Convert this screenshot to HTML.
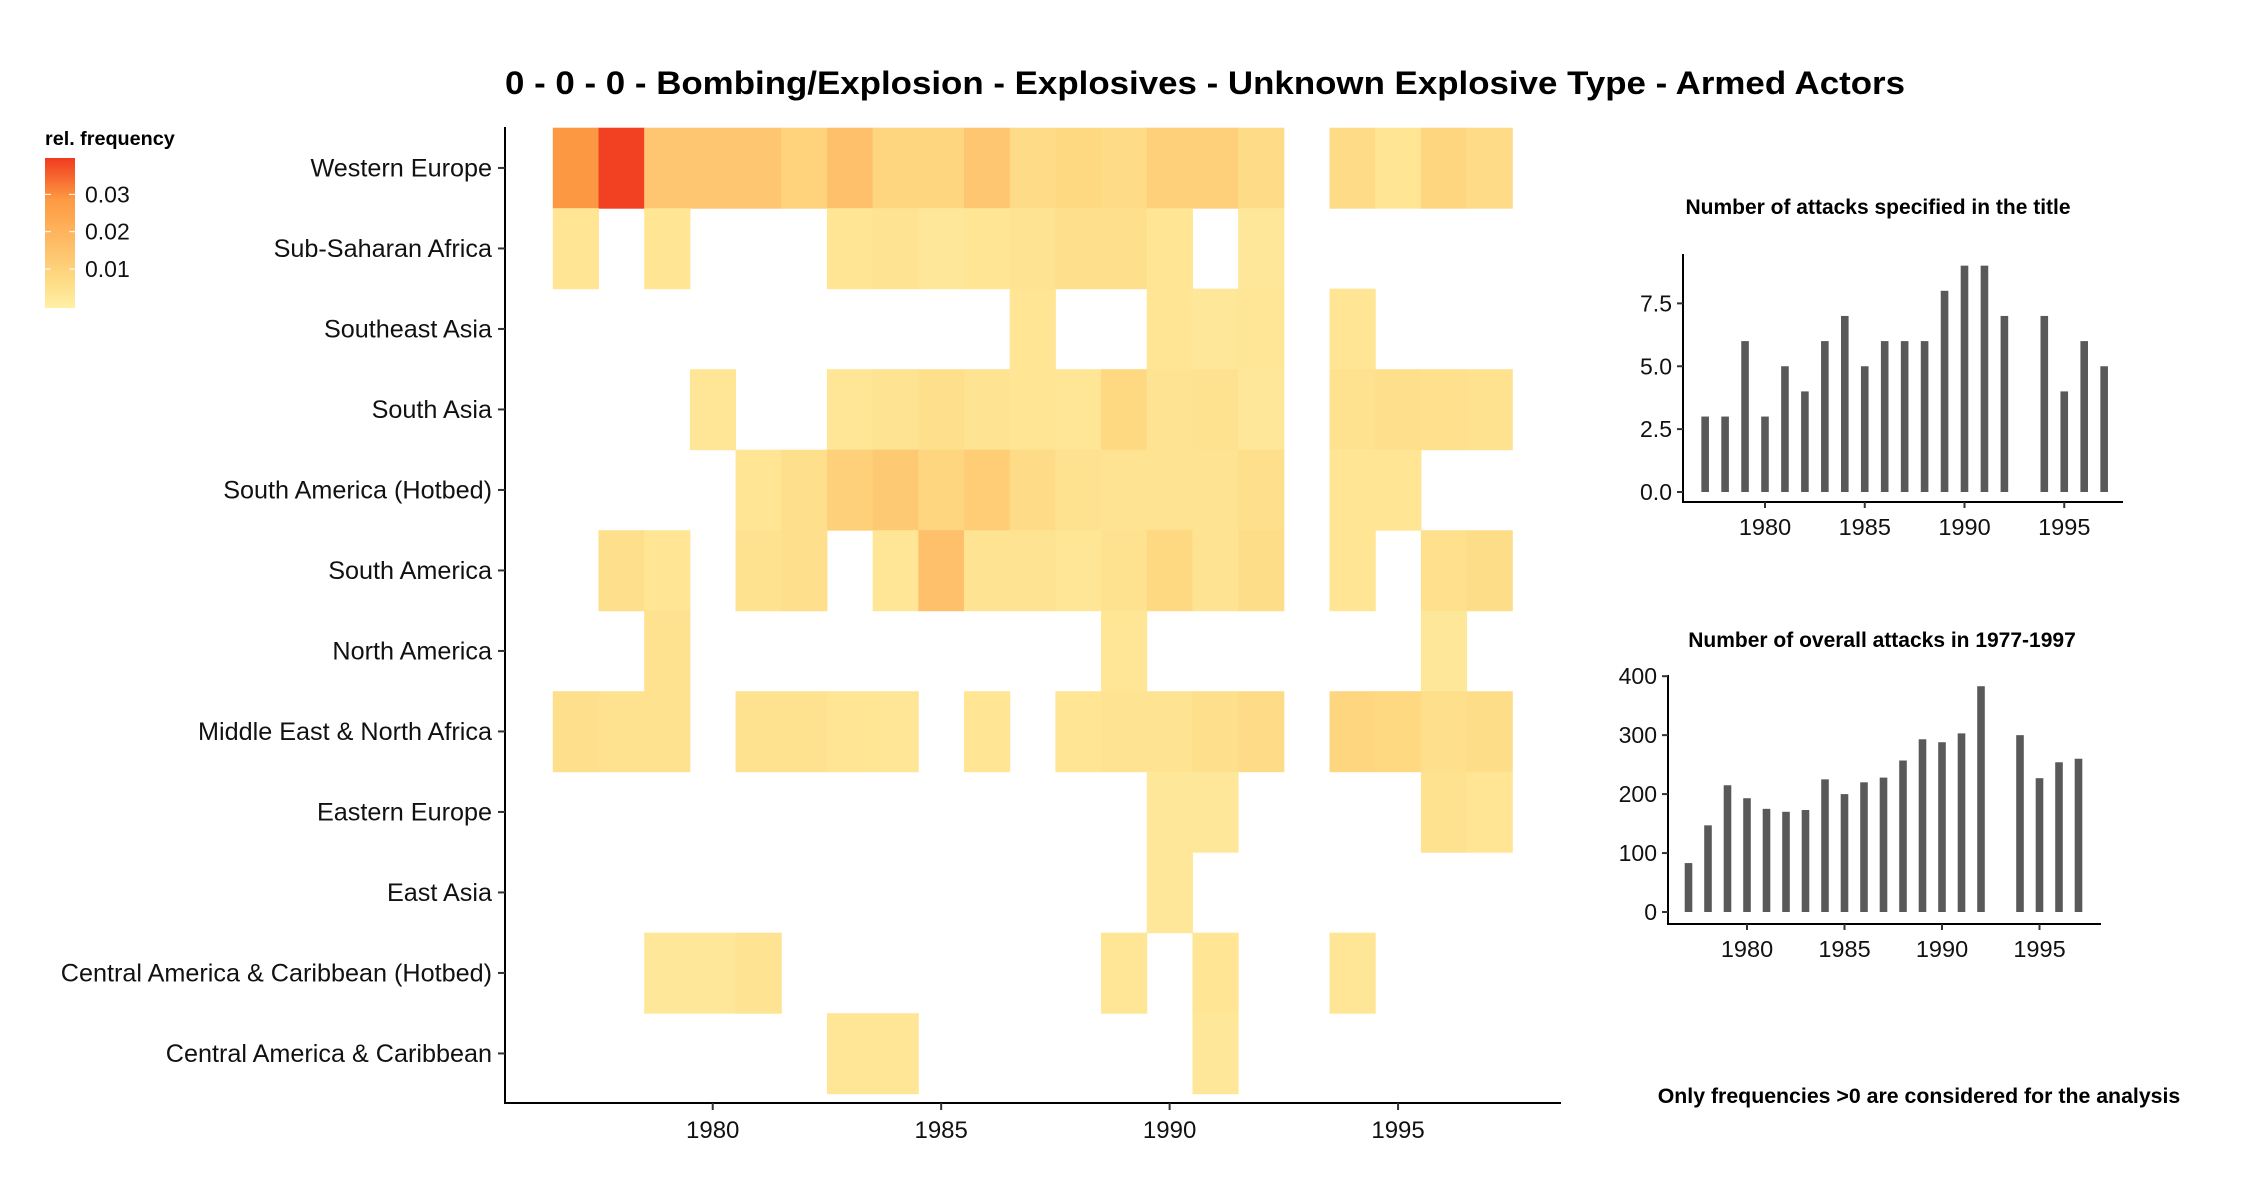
<!DOCTYPE html>
<html><head><meta charset="utf-8"><style>
body{margin:0;background:#fff;}
svg{display:block;font-family:"Liberation Sans",Arial,sans-serif;}
</style></head><body>
<svg id="chart" width="2250" height="1200" viewBox="0 0 2250 1200" xmlns="http://www.w3.org/2000/svg">
<defs>
<linearGradient id="lg" x1="0" y1="1" x2="0" y2="0">
<stop offset="0" stop-color="#fff0a6"/>
<stop offset="0.2" stop-color="#fed982"/>
<stop offset="0.4" stop-color="#fec06a"/>
<stop offset="0.72" stop-color="#fd9b43"/>
<stop offset="1" stop-color="#f03b20"/>
</linearGradient>
</defs>
<text x="1205" y="94" font-size="32" font-weight="bold" text-anchor="middle" textLength="1400" lengthAdjust="spacingAndGlyphs" fill="#000">0 - 0 - 0 - Bombing/Explosion - Explosives - Unknown Explosive Type - Armed Actors</text>
<g id="legend">
<text x="45" y="145" font-size="19.8" font-weight="bold" fill="#000">rel. frequency</text>
<rect x="45" y="158" width="30" height="150" fill="url(#lg)"/>
</g>
<g id="heat"></g>
<g id="bars1"></g>
<g id="bars2"></g>
<text x="1919" y="1103" font-size="21.3" font-weight="bold" text-anchor="middle" fill="#000">Only frequencies &gt;0 are considered for the analysis</text>
</svg>
<script>
const NS="http://www.w3.org/2000/svg";
const regions=["Western Europe","Sub-Saharan Africa","Southeast Asia","South Asia","South America (Hotbed)","South America","North America","Middle East & North Africa","Eastern Europe","East Asia","Central America & Caribbean (Hotbed)","Central America & Caribbean"];
const years=[1977,1978,1979,1980,1981,1982,1983,1984,1985,1986,1987,1988,1989,1990,1991,1992,1993,1994,1995,1996,1997];
const freq=[
[0.029,0.039,0.014,0.014,0.014,0.010,0.016,0.009,0.009,0.014,0.007,0.008,0.007,0.011,0.011,0.007,0,0.007,0.004,0.009,0.007],
[0.004,0,0.004,0,0,0,0.004,0.0045,0.003,0.004,0.0045,0.006,0.006,0.004,0,0.003,0,0,0,0,0],
[0,0,0,0,0,0,0,0,0,0,0.004,0,0,0.004,0.003,0.0035,0,0.004,0,0,0],
[0,0,0,0.0035,0,0,0.0035,0.0045,0.006,0.0045,0.004,0.0035,0.008,0.0045,0.005,0.003,0,0.005,0.006,0.0055,0.005],
[0,0,0,0,0.004,0.006,0.011,0.013,0.009,0.012,0.007,0.005,0.0045,0.0045,0.0045,0.006,0,0.004,0.004,0,0],
[0,0.006,0.004,0,0.005,0.006,0,0.0035,0.016,0.0045,0.0045,0.0035,0.005,0.008,0.0045,0.0065,0,0.004,0,0.0055,0.0065],
[0,0,0.005,0,0,0,0,0,0,0,0,0,0.0035,0,0,0,0,0,0,0.003,0],
[0.006,0.005,0.005,0,0.005,0.005,0.004,0.0035,0,0.004,0,0.004,0.0045,0.0045,0.006,0.007,0,0.009,0.008,0.006,0.0065],
[0,0,0,0,0,0,0,0,0,0,0,0,0,0.003,0.003,0,0,0,0,0.005,0.004],
[0,0,0,0,0,0,0,0,0,0,0,0,0,0.003,0,0,0,0,0,0,0],
[0,0,0.003,0.003,0.0045,0,0,0,0,0,0,0,0.0035,0,0.004,0,0,0.0035,0,0,0],
[0,0,0,0,0,0,0.0035,0.0035,0,0,0,0,0,0,0.003,0,0,0,0,0,0]];
const xTicks=[1980,1985,1990,1995];
const legendTicks=[0.01,0.02,0.03];
const barYears=[1977,1978,1979,1980,1981,1982,1983,1984,1985,1986,1987,1988,1989,1990,1991,1992,1994,1995,1996,1997];
const attacksTitle=[3,3,6,3,5,4,6,7,5,6,6,6,8,9,9,7,7,4,6,5];
const attacksOverall=[83,147,215,193,175,170,173,225,200,220,228,257,293,288,303,383,300,227,254,260];
const ticks1=[0,2.5,5,7.5];
const ticks1Labels=["0.0","2.5","5.0","7.5"];
const ticks2=[0,100,200,300,400];

function el(tag,attrs,parent,text){const e=document.createElementNS(NS,tag);for(const k in attrs)e.setAttribute(k,attrs[k]);if(text!==undefined)e.textContent=text;parent.appendChild(e);return e;}
const stops=[[0,[255,240,166]],[0.008,[254,217,130]],[0.016,[254,192,106]],[0.0286,[253,155,67]],[0.0397,[240,59,32]]];
function color(v){for(let i=1;i<stops.length;i++){if(v<=stops[i][0]){const a=stops[i-1],b=stops[i];const t=(v-a[0])/(b[0]-a[0]);const c=a[1].map((x,j)=>Math.round(x+(b[1][j]-x)*t));return `rgb(${c})`;}}return "rgb(240,59,32)";}

const hx0=552.8,cw=45.69,hy0=127.7,rh=80.5,axY=1103;
const xS=y=>hx0+(y-years[0])*cw;
const yS=i=>hy0+i*rh;
const heat=document.getElementById('heat');
freq.forEach((row,i)=>row.forEach((v,j)=>{if(v>0){
 const r=el('rect',{x:xS(years[j]),y:yS(i),width:cw+0.5,height:rh+0.5,fill:color(v)},heat);
 
 
}}));
let ax=el('line',{x1:505,y1:127,x2:505,y2:axY+1,stroke:'#000','stroke-width':2},heat);


ax=el('line',{x1:504,y1:axY,x2:1561,y2:axY,stroke:'#000','stroke-width':2},heat);


regions.forEach((r,i)=>{const cy=yS(i)+rh/2;
 el('line',{x1:498,y1:cy,x2:505,y2:cy,stroke:'#333','stroke-width':2},heat);
 const t=el('text',{x:492,y:cy+8.5,'font-size':25.2,'text-anchor':'end',fill:'#111'},heat,r);
 
 
});
xTicks.forEach(y=>{const x=xS(y)+cw/2;
 el('line',{x1:x,y1:axY,x2:x,y2:axY+7,stroke:'#333','stroke-width':2},heat);
 const t=el('text',{x:x,y:axY+35,'font-size':24,'text-anchor':'middle',fill:'#111'},heat,y);
 
 
});
const leg=document.getElementById('legend');
const lyS=v=>306.3-v*3730;
legendTicks.forEach(v=>{const y=lyS(v);
 el('line',{x1:45,y1:y,x2:51,y2:y,stroke:'#fff','stroke-width':1},leg);
 el('line',{x1:69,y1:y,x2:75,y2:y,stroke:'#fff','stroke-width':1},leg);
 const t=el('text',{x:85,y:y+8,'font-size':23,fill:'#111'},leg,v.toFixed(2));
 
 
});

function barChart(g,vals,ticks,tickLabels,o){
 const bx=y=>o.x1980+(y-1980)*o.perYear;
 const by=v=>o.y0-v*o.perUnit;
 const tt=el('text',{x:o.titleX,y:o.titleY,'font-size':21,'font-weight':'bold','text-anchor':'middle',fill:'#000'},g,o.title);
 
 
 vals.forEach((v,i)=>{
  const r=el('rect',{x:bx(barYears[i])-3.8,y:by(v),width:7.6,height:o.y0-by(v),fill:'#595959'},g);
  
  
 });
 el('line',{x1:o.axX,y1:o.axTop,x2:o.axX,y2:o.axBot,stroke:'#000','stroke-width':2},g);
 el('line',{x1:o.axX-1,y1:o.axBot,x2:o.axRight,y2:o.axBot,stroke:'#000','stroke-width':2},g);
 ticks.forEach((v,i)=>{const y=by(v);
  el('line',{x1:o.axX-6,y1:y,x2:o.axX,y2:y,stroke:'#333','stroke-width':2},g);
  const t=el('text',{x:o.axX-11,y:y+8,'font-size':23,'text-anchor':'end',fill:'#111'},g,tickLabels[i]);
  
  
 });
 xTicks.forEach(y=>{const x=bx(y);
  el('line',{x1:x,y1:o.axBot,x2:x,y2:o.axBot+6,stroke:'#333','stroke-width':2},g);
  const t=el('text',{x:x,y:o.axBot+33,'font-size':23.5,'text-anchor':'middle',fill:'#111'},g,y);
  
  
 });
}
barChart(document.getElementById('bars1'),attacksTitle,ticks1,ticks1Labels,{name:'attacks-title-chart',title:'Number of attacks specified in the title',titleX:1878,titleY:214,x1980:1765,perYear:19.95,y0:492,perUnit:25.15,axX:1683,axTop:254,axBot:502,axRight:2123});
barChart(document.getElementById('bars2'),attacksOverall,ticks2,ticks2.map(String),{name:'overall-attacks-chart',title:'Number of overall attacks in 1977-1997',titleX:1882,titleY:647,x1980:1747,perYear:19.5,y0:912,perUnit:0.5895,axX:1668,axTop:675,axBot:924,axRight:2101});
</script>
</body></html>
